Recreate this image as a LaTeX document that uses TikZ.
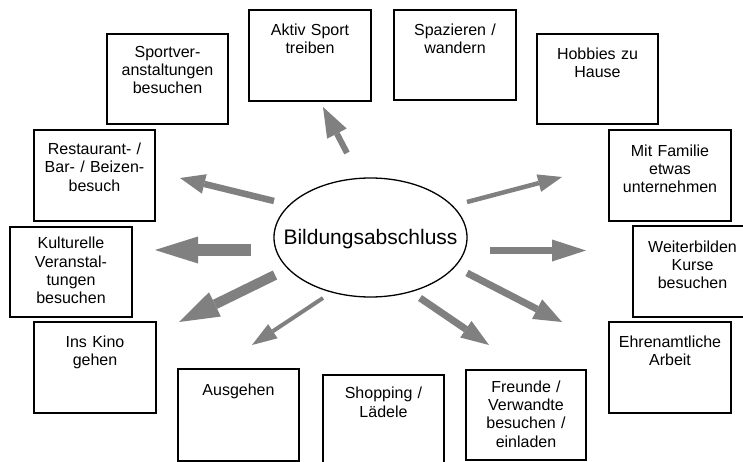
\documentclass[tikz,border=0pt]{standalone}
\usepackage{fontspec}
\setmainfont{Liberation Sans}
\usetikzlibrary{arrows.meta,shapes.geometric}

\tikzset{
  box/.style={draw=black, line width=1.8pt, rectangle, inner sep=0pt, fill=white},
  lbl/.style={anchor=base, text width=118pt, align=center, inner sep=0pt,
              font=\fontsize{16}{18.4}\selectfont},
  hub/.style={draw=black, line width=1.3pt, ellipse, inner sep=0pt,
              minimum width=193pt, minimum height=119pt},
  hubtext/.style={anchor=base, inner sep=0pt, font=\fontsize{21}{24}\selectfont},
  ray/.style={draw=black!50, line cap=butt},
}

% box with its caption set from the top edge: name, cx, cy, width, height, baseline offset, text
\newcommand\boxitem[7]{%
  \node[box, minimum width=#4pt, minimum height=#5pt] (#1) at (#2,#3) {};
  \node[lbl] (#1-text) at ([yshift=-#6pt]#1.north) {#7};
}

% thick grey arrow: tail, tip, shaft width, head length, head width
\newcommand\rayarrow[5]{%
  \draw[ray, line width=#3pt, -{Triangle[length=#4pt, width=#5pt, line width=0pt]}] (#1) -- (#2);
}

\begin{document}
\begin{tikzpicture}[x=1pt, y=-1pt]
  \fill[white] (0,0) rectangle (743,462);
  \useasboundingbox (0,0) rectangle (743,462);

  % activities
  \boxitem{sport}{167.5}{79}{121}{90}{24}{Sportver-\\anstaltungen\\besuchen}
  \boxitem{aktiv}{310}{55.5}{122}{91}{26.5}{Aktiv Sport\\treiben}
  \boxitem{spaz}{455}{55}{122}{90}{26.5}{Spazieren /\\wandern}
  \boxitem{hobby}{597.5}{79}{121}{90}{26.5}{Hobbies zu\\Hause}
  \boxitem{resto}{94.5}{175.5}{121}{91}{25.5}{Restaurant- /\\Bar- / Beizen-\\besuch}
  \boxitem{familie}{670}{175.5}{122}{91}{27}{Mit Familie\\etwas\\unternehmen}
  \boxitem{kultur}{71}{272}{122}{90}{22.5}{Kulturelle\\Veranstal-\\tungen\\besuchen}
  \boxitem{weiter}{692.5}{271.5}{119}{91}{27}{Weiterbilden\\Kurse\\besuchen}
  \boxitem{kino}{95}{367.5}{122}{91}{26}{Ins Kino\\gehen}
  \boxitem{ehren}{670}{367.5}{122}{91}{26}{Ehrenamtliche\\Arbeit}
  \boxitem{ausgehen}{238.5}{415}{121}{92}{27.5}{Ausgehen}
  \boxitem{shopping}{383.5}{422.5}{121}{95}{24.5}{Shopping /\\Lädele}
  \boxitem{freunde}{526}{415}{120}{90}{23}{Freunde /\\Verwandte\\besuchen /\\einladen}

  % central topic
  \node[hub] (hub) at (370.5,237.5) {};
  \node[hubtext] (hub-text) at (370.5,244.5) {Bildungsabschluss};

  % arrow ends
  \coordinate (t1) at (347,153);   \coordinate (h1) at (323,107);
  \coordinate (t2) at (274,201);   \coordinate (h2) at (180,178);
  \coordinate (t3) at (251,250);   \coordinate (h3) at (155,250);
  \coordinate (t4) at (275,275);   \coordinate (h4) at (179,322);
  \coordinate (t5) at (323,298);   \coordinate (h5) at (252,345);
  \coordinate (t6) at (467,202);   \coordinate (h6) at (562,177);
  \coordinate (t7) at (490,250.5); \coordinate (h7) at (586,250.5);
  \coordinate (t8) at (467,273);   \coordinate (h8) at (562,322);
  \coordinate (t9) at (420,298);   \coordinate (h9) at (489,345);

  \rayarrow{t1}{h1}{6}{30}{22}
  \rayarrow{t2}{h2}{6.5}{25}{20}
  \rayarrow{t3}{h3}{12}{43}{27}
  \rayarrow{t4}{h4}{10}{40}{27}
  \rayarrow{t5}{h5}{4}{25}{17}
  \rayarrow{t6}{h6}{4.5}{24}{18}
  \rayarrow{t7}{h7}{7.5}{34}{22}
  \rayarrow{t8}{h8}{7}{28}{22}
  \rayarrow{t9}{h9}{7}{28}{20}
\end{tikzpicture}
\end{document}
